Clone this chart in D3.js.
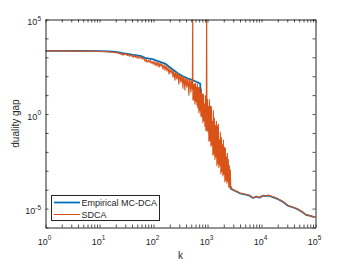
<!DOCTYPE html>
<html><head><meta charset="utf-8">
<script src="https://cdn.jsdelivr.net/npm/d3@7"></script>
<style>
body{margin:0;background:#fff}
svg{display:block}
text{font-family:"Liberation Sans",Arial,Helvetica,sans-serif;fill:#262626}
</style>
</head><body>
<svg id="chart" width="349" height="262"></svg>
<script>
// ---- data ----
const seriesNames = ["Empirical MC-DCA", "SDCA"];
const seriesColors = ["#0072BD", "#D95319"];
const xTickValues = [1, 10, 100, 1000, 10000, 100000];
const xTickExponents = ["0", "1", "2", "3", "4", "5"];
const yLabelValues = [1e5, 1, 1e-5];
const yLabelExponents = ["5", "0", "-5"];
const xLabel = "k";
const yLabel = "duality gap";

// iteration k and log10(duality gap)
const mcdcaK = [1,5,10,15,20,27,40,57,70,100,107,163,215,285,351,433,537,664,735,745,822,950,1030,1300,1694,2000,2410,2700,3210,3970,4910,6070,6950,8000,9200,10600,12200,14000,16100,19900,24600,30500,37700,46600,57700,66500,76700,88400,100000];
const mcdcaLogGap = [3.34,3.34,3.33,3.31,3.29,3.22,3.14,3.08,2.97,2.89,2.85,2.67,2.41,2.14,2.00,1.88,1.79,1.67,1.61,0.80,0.25,0.05,-0.10,-1.00,-2.16,-2.90,-3.48,-3.95,-4.06,-4.19,-4.25,-4.32,-4.44,-4.37,-4.42,-4.32,-4.33,-4.32,-4.39,-4.49,-4.63,-4.84,-4.93,-5.03,-5.19,-5.33,-5.37,-5.42,-5.44];

const sdcaK = [1,2,3,5,7,9,11,12,13,14,15,16,17,18,19,20,21,22,23,24,25,26,27,29,30,31,33,34,36,37,39,40,42,44,46,48,50,52,54,57,59,62,64,67,70,73,76,80,83,87,90,94,98,103,107,112,116,121,127,132,138,144,150,157,163,171,178,186,194,202,211,
  220,225,230,235,240,245,250,255,261,266,272,278,284,290,296,302,309,316,323,330,337,344,351,358,366,374,382,390,399,407,416,425,434,443,453,463,473,483,493,504,515,524,533,537,548,
  560,572,585,597,610,623,636,650,664,678,693,708,724,739,755,771,787,804,822,839,857,876,895,914,933,950,965,980,998,1016,1038,1061,1084,1107,1131,1155,1180,1205,1231,1257,1284,1312,1341,1371,1400,1430,1461,1492,1524,1557,1590,1624,1659,1694,1731,1768,1806,1845,1885,1925,1966,2008,2051,2094,2139,2185,2232,2280,2328,2377,2428,2480,2534,2588,2643,2700,2758,2818,
  3000,3210,3500,3970,4400,4910,5500,6070,6500,6950,7400,8000,8600,9200,9900,10600,11400,12200,13100,14000,15000,16100,18000,19900,22000,24600,27500,30500,34000,37700,42000,46600,52000,57700,62000,66500,71500,76700,82000,88400,94000,100000];
const sdcaLogGap = [3.34,3.34,3.33,3.33,3.33,3.32,3.30,3.32,3.28,3.31,3.27,3.29,3.25,3.28,3.24,3.27,3.22,3.26,3.19,3.22,3.16,3.22,3.11,3.19,3.14,3.19,3.09,3.16,3.06,3.14,3.06,3.11,3.00,3.09,3.00,3.09,2.95,3.06,2.95,3.03,2.93,3.00,2.90,2.95,2.79,2.90,2.74,2.85,2.74,2.85,2.69,2.79,2.64,2.79,2.58,2.74,2.53,2.74,2.48,2.69,2.53,2.66,2.37,2.61,2.32,2.56,2.27,2.48,2.11,2.40,2.16,
  2.35,2.12,1.95,2.25,2.20,1.98,1.79,2.15,2.19,1.95,1.85,2.14,2.11,1.80,1.58,2.05,2.03,1.82,1.69,2.00,1.98,1.70,1.37,1.95,1.92,1.60,1.27,1.90,1.87,1.55,1.42,1.84,1.82,1.40,1.00,1.80,1.77,1.45,1.16,1.74,1.71,1.30,6.0,0.74,1.55,
  0.74,1.59,0.53,1.61,0.66,1.41,0.48,1.60,0.32,1.40,0.06,1.43,0.18,1.11,-0.11,1.32,-0.16,1.06,-0.46,1.05,-0.35,0.53,-0.65,0.97,-0.88,0.73,6.0,-0.86,0.77,-0.94,0.39,-1.44,0.76,-1.39,0.42,-1.70,0.38,-1.64,-0.39,-2.18,0.18,-2.11,-0.22,-2.41,-0.61,-2.27,-0.38,-2.74,-0.64,-2.61,-0.54,-2.83,-1.38,-2.71,-0.95,-3.16,-1.24,-3.05,-1.62,-3.27,-1.37,-3.18,-1.74,-3.58,-1.81,-3.48,-2.26,-3.64,-2.07,-3.55,-2.41,-3.87,-2.73,-3.80,-2.95,-3.95,-3.85,-3.95,
  -4.00,-4.05,-4.08,-4.18,-4.20,-4.24,-4.27,-4.31,-4.38,-4.44,-4.40,-4.35,-4.39,-4.42,-4.36,-4.31,-4.34,-4.31,-4.29,-4.31,-4.34,-4.38,-4.42,-4.48,-4.55,-4.62,-4.72,-4.83,-4.88,-4.92,-4.97,-5.02,-5.10,-5.18,-5.27,-5.32,-5.34,-5.36,-5.40,-5.41,-5.44,-5.43];

// ---- layout ----
const L = 45.5, R = 315.5, T = 19.5, B = 227.5;
const axisColor = "#262626";
const svg = d3.select("#chart");

const x = d3.scaleLog().domain([1, 1e5]).range([L, R]);
const y = d3.scaleLog().domain([1e-6, 1e5]).range([B, T]);

svg.append("defs").append("clipPath").attr("id", "plotclip")
  .append("rect").attr("x", L).attr("y", T).attr("width", R - L).attr("height", B - T);

svg.append("rect").attr("x", L).attr("y", T).attr("width", R - L).attr("height", B - T).attr("fill", "#fff");

const toPts = (ks, vs) => ks.map((k, i) => ({k: k, g: Math.pow(10, vs[i])}));
const line = d3.line().x(d => x(d.k)).y(d => y(d.g));

const plot = svg.append("g").attr("clip-path", "url(#plotclip)");
plot.append("path").datum(toPts(mcdcaK, mcdcaLogGap))
  .attr("d", line).attr("fill", "none").attr("stroke", seriesColors[0])
  .attr("stroke-width", 1.8).attr("stroke-linejoin", "round");
plot.append("path").datum(toPts(sdcaK, sdcaLogGap))
  .attr("d", line).attr("fill", "none").attr("stroke", seriesColors[1])
  .attr("stroke-width", 1.1).attr("stroke-linejoin", "round");

// ---- axes (ticks inward on all four sides) ----
const xAll = x.ticks();
const yAll = y.ticks(11).filter(v => Math.abs(Math.log10(v) - Math.round(Math.log10(v))) < 1e-9);
function styleAxis(g) {
  g.selectAll("text").remove();
  g.selectAll("path.domain").attr("stroke", axisColor).attr("stroke-width", 1);
  g.selectAll(".tick line").attr("stroke", axisColor).attr("stroke-width", 0.8);
}
svg.append("g").attr("transform", `translate(0,${B})`)
  .call(d3.axisBottom(x).tickValues(xAll).tickSize(-3).tickSizeOuter(0).tickFormat("")).call(styleAxis);
svg.append("g").attr("transform", `translate(0,${T})`)
  .call(d3.axisTop(x).tickValues(xAll).tickSize(-3).tickSizeOuter(0).tickFormat("")).call(styleAxis);
svg.append("g").attr("transform", `translate(${L},0)`)
  .call(d3.axisLeft(y).tickValues(yAll).tickSize(-3).tickSizeOuter(0).tickFormat("")).call(styleAxis);
svg.append("g").attr("transform", `translate(${R},0)`)
  .call(d3.axisRight(y).tickValues(yAll).tickSize(-3).tickSizeOuter(0).tickFormat("")).call(styleAxis);

// tick labels
xTickValues.forEach((v, i) => {
  const t = svg.append("text").attr("x", x(v) - 1).attr("y", 244.5)
    .attr("text-anchor", "middle").attr("font-size", 9);
  t.append("tspan").text("10");
  t.append("tspan").attr("dy", -4.5).attr("font-size", 6.5).text(xTickExponents[i]);
});
yLabelValues.forEach((v, i) => {
  const t = svg.append("text").attr("x", 41).attr("y", y(v) + 5.5)
    .attr("text-anchor", "end").attr("font-size", 9);
  t.append("tspan").text("10");
  t.append("tspan").attr("dy", -4.5).attr("font-size", 6.5).text(yLabelExponents[i]);
});

// axis labels
svg.append("text").attr("x", (L + R) / 2).attr("y", 259).attr("text-anchor", "middle")
  .attr("font-size", 10).text(xLabel);
svg.append("text").attr("transform", `translate(19,${(T + B) / 2}) rotate(-90)`)
  .attr("text-anchor", "middle").attr("font-size", 10).text(yLabel);

// legend
const lg = svg.append("g");
lg.append("rect").attr("x", 51.5).attr("y", 195.5).attr("width", 108).attr("height", 25)
  .attr("fill", "#fff").attr("stroke", axisColor).attr("stroke-width", 1);
const rowsY = [202.5, 214.5];
seriesNames.forEach((name, i) => {
  lg.append("line").attr("x1", 54).attr("x2", 80).attr("y1", rowsY[i]).attr("y2", rowsY[i])
    .attr("stroke", seriesColors[i]).attr("stroke-width", i === 0 ? 1.8 : 1);
  lg.append("text").attr("x", 81.5).attr("y", rowsY[i] + 3.2).attr("font-size", 9).text(name);
});
</script>
</body></html>
